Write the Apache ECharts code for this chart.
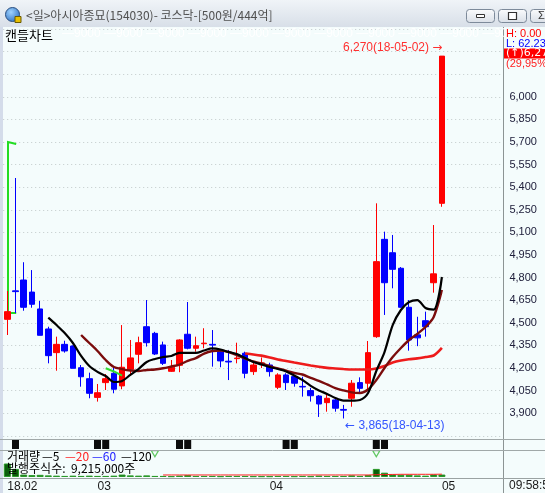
<!DOCTYPE html>
<html>
<head>
<meta charset="utf-8">
<script src="https://cdn.jsdelivr.net/npm/echarts@6/dist/echarts.min.js"></script>
<style>
html,body{margin:0;padding:0;background:#f4fcfc;}
#chart{width:545px;height:493px;}
</style>
</head>
<body>
<div id="chart"></div>
<script>
// 거래일
var dates = ['18-02-12','18-02-13','18-02-14','18-02-19','18-02-20','18-02-21','18-02-22','18-02-23','18-02-26','18-02-27','18-02-28',
  '18-03-02','18-03-05','18-03-06','18-03-07','18-03-08','18-03-09','18-03-12','18-03-13','18-03-14','18-03-15','18-03-16',
  '18-03-19','18-03-20','18-03-21','18-03-22','18-03-23','18-03-26','18-03-27','18-03-28','18-03-29','18-03-30',
  '18-04-02','18-04-03','18-04-04','18-04-05','18-04-06','18-04-09','18-04-10','18-04-11','18-04-12','18-04-13',
  '18-04-16','18-04-17','18-04-18','18-04-19','18-04-20','18-04-23','18-04-24','18-04-25','18-04-26','18-04-27','18-04-30',
  '18-05-02'];

// [시가, 종가, 저가, 고가]
var candles = [
  [4523,4574,4419,4711],[4712,4707,4565,5461],[4784,4603,4580,4902],[4704,4623,4600,4850],[4592,4417,4417,4645],
  [4459,4282,4231,4474],[4302,4357,4182,4408],[4357,4313,4302,4381],[4346,4198,4198,4350],[4202,4142,4076,4220],
  [4129,4032,3999,4169],[4005,4036,3977,4094],[4103,4129,4054,4160],[4165,4059,4032,4207],[4081,4205,4059,4485],
  [4192,4267,4147,4386],[4291,4368,4231,4408],[4474,4368,4342,4651],[4430,4293,4286,4440],[4353,4231,4220,4375],
  [4178,4205,4174,4253],[4218,4386,4172,4391],[4424,4331,4324,4638],[4331,4348,4308,4408],[4361,4365,4331,4464],
  [4357,4352,4209,4452],[4308,4247,4205,4320],[4245,4240,4120,4320],[4262,4266,4231,4368],[4298,4165,4132,4308],
  [4176,4220,4154,4242],[4230,4234,4200,4270],[4220,4176,4143,4235],[4072,4154,4060,4165],[4154,4103,4054,4165],
  [4143,4099,4076,4154],[4078,4074,4010,4142],[4050,4016,3977,4068],[4014,3961,3875,4020],[3970,3999,3910,4032],
  [3988,3933,3910,3995],[3925,3920,3865,3955],[3999,4099,3943,4120],[4103,4065,4032,4138],[4099,4302,4054,4379],
  [4408,4906,4400,5293],[5054,4766,4552,5105],[4965,4855,4729,5083],[4862,4603,4600,4870],[4603,4386,4315,4651],
  [4420,4400,4345,4540],[4514,4474,4408,4574],[4766,4825,4700,5149],[5293,6270,5270,6270]
];

// 이동평균
var ma5 = ['-','-','-','-','-',4534,4485,4432,4366,4280,4213,4174,4147,4107,4114,4154,4193,4240,4260,4273,4280,4300,4300,4300,
  4316,4330,4323,4306,4293,4266,4240,4223,4207,4193,4177,4150,4120,4081,4051,4028,4001,3984,3983,3988,4034,4180,4306,4485,
  4585,4638,4651,4598,4588,4804];
var ma10 = ['-','-','-','-','-','-','-','-','-',4419,4366,4313,4253,4207,4193,4183,4180,4187,4190,4198,4210,4223,4247,4266,
  4296,4313,4316,4306,4286,4263,4243,4230,4213,4197,4183,4167,4157,4134,4114,4091,4067,4051,4038,4034,4057,4120,4200,4273,
  4333,4386,4426,4472,4539,4718];
var ma30 = ['-','-','-','-','-','-','-','-','-','-','-','-','-','-','-','-','-','-','-','-','-','-','-','-','-','-','-','-','-',
  4296,4290,4282,4270,4256,4247,4237,4227,4217,4208,4201,4197,4193,4190,4190,4190,4197,4213,4237,4250,4258,4264,4273,4283,4333];
var greenSeg = ['-','-','-','-','-','-','-','-','-','-','-','-',4198,4177,4150];
var greenMark = [5700, 4565];

// 거래량 (상대값)
var vol = [50,30,9,7,8,6,5,4,5,4,5,4,4,5,9,6,5,6,4,4,3,5,7,4,4,4,3,4,4,4,3,3,3,4,4,3,4,3,5,4,4,4,6,4,7,30,16,9,8,8,6,5,9,9];
var volMa = ['-','-','-','-','-','-','-','-','-','-','-','-','-','-','-','-','-','-','-',
  7.5,7.5,7.5,7.5,7.5,7.5,7.5,7.5,7.5,7.5,7.5,7.5,7.5,7.5,7.5,7.5,7.5,7.5,7.5,7.5,7.5,7.5,7.5,7.5,7.5,7.5,
  8.5,9,9.5,10,10,10,10,10,10.5];

var markerIdx = [1,11,12,21,22,34,35,45,46];
var triIdx = [18,45];
var tickIdx = [0,11,32,53];
var tickText = ['18.02','03','04','05'];
var highPt = ['18-05-02', 6270];
var lowPt = ['18-04-13', 3865];

var FONT = '"Liberation Sans", Arial, sans-serif';
var KFONT = '"Noto Sans CJK KR", sans-serif';
var AFONT = '"DejaVu Sans", sans-serif';

function comma(v){ return String(v).replace(/\B(?=(\d{3})+(?!\d))/g, ','); }

var cats = dates.concat(['p1','p2','p3','p4','p5','p6','p7']);
var markerData = cats.map(function(d,i){ return markerIdx.indexOf(i) >= 0 ? 1 : '-'; });
var triData = cats.map(function(d,i){ return triIdx.indexOf(i) >= 0 ? 86 : '-'; });

var chart = echarts.init(document.getElementById('chart'));

function txt(x, y, s, color, font, align){
  return {type:'text', z:100, style:{x:x, y:y, text:s, fill:color, font:font, textAlign:align||'left', align:align||'left', textVerticalAlign:'middle', verticalAlign:'middle'}};
}
function line(x1,y1,x2,y2,c){
  return {type:'line', z:90, shape:{x1:x1,y1:y1,x2:x2,y2:y2}, style:{stroke:c, lineWidth:1}};
}
var btnFill = new echarts.graphic.LinearGradient(0,0,0,1,[{offset:0,color:'#fbfcfd'},{offset:1,color:'#d9dfe7'}]);

var hiddenX = function(gi){
  return {type:'category', gridIndex:gi, data:cats, boundaryGap:true,
    axisLine:{show:false}, axisTick:{show:false}, axisLabel:{show:false}, splitLine:{show:false}};
};

chart.setOption({
  animation:false,
  backgroundColor:'#f4fcfc',
  grid:[
    {left:3.2, right:41.6, top:29, height:406.8},
    {left:3.2, right:41.6, top:440, height:9},
    {left:3.2, right:41.6, top:450, height:28}
  ],
  xAxis:[
    hiddenX(0),
    hiddenX(1),
    {type:'category', gridIndex:2, data:cats, boundaryGap:true,
      axisLine:{show:false}, axisTick:{show:false}, splitLine:{show:false},
      axisLabel:{show:true, margin:4, align:'left', color:'#1a1a1a', fontSize:12, fontFamily:FONT,
        interval:function(i){ return tickIdx.indexOf(i) >= 0; },
        formatter:function(v, i){ var k = tickIdx.indexOf(i); return k >= 0 ? tickText[k] : ''; }}}
  ],
  yAxis:[
    {type:'value', gridIndex:0, position:'right', min:3750, max:6450, interval:150,
      axisLine:{show:true, lineStyle:{color:'#8c9494'}}, axisTick:{show:false},
      splitLine:{show:true, lineStyle:{color:'#c2caca', type:[1,3]}},
      axisLabel:{margin:6, color:'#20203c', fontSize:11, fontFamily:FONT,
        formatter:function(v){ return (v > 6000 || v < 3900) ? '' : comma(v); }}},
    {type:'value', gridIndex:1, min:0, max:1, show:false},
    {type:'value', gridIndex:2, min:0, max:100, show:false}
  ],
  series:[
    {type:'candlestick', xAxisIndex:0, yAxisIndex:0, data:candles, barWidth:6, silent:true,
      itemStyle:{color:'#ff0000', color0:'#0000ff', borderColor:'#ff0000', borderColor0:'#0000ff', borderWidth:1},
      markPoint:{symbol:'circle', symbolSize:1, silent:true, itemStyle:{color:'rgba(0,0,0,0)'},
        data:[
          {coord:highPt, label:{show:true, position:[1,-8], align:'right', verticalAlign:'middle',
            formatter:comma(highPt[1]) + '(' + highPt[0] + ') {a|→}', color:'#ff3030', fontSize:12, fontFamily:FONT,
            rich:{a:{fontFamily:AFONT, fontSize:12, color:'#ff3030'}}}},
          {coord:lowPt, label:{show:true, position:[2,8], align:'left', verticalAlign:'middle',
            formatter:'{a|←} ' + comma(lowPt[1]) + '(' + lowPt[0] + ')', color:'#3355ff', fontSize:12, fontFamily:FONT,
            rich:{a:{fontFamily:AFONT, fontSize:12, color:'#3355ff'}}}}
        ]}},
    {type:'custom', xAxisIndex:0, yAxisIndex:0, silent:true, data:[[0, greenMark[0], greenMark[1]]],
      renderItem:function(params, api){
        var top = api.coord([api.value(0), api.value(1)]);
        var bot = api.coord([api.value(0), api.value(2)]);
        var w = api.size([1, 0])[0];
        var x = top[0] + 0.7;
        return {type:'polyline', shape:{points:[[x + w, top[1] + 2],[x + w * 0.5, top[1] + 1],[x, top[1]],[x, bot[1]],[x + w, bot[1]]]},
          style:{stroke:'#22dd22', lineWidth:2, fill:null}};
      }},
    {type:'line', xAxisIndex:0, yAxisIndex:0, data:ma30, symbol:'none', smooth:0.3, silent:true,
      lineStyle:{color:'#ee1b1b', width:2.6}},
    {type:'line', xAxisIndex:0, yAxisIndex:0, data:ma10, symbol:'none', smooth:0.3, silent:true,
      lineStyle:{color:'#7b0c0c', width:2.4}},
    {type:'line', xAxisIndex:0, yAxisIndex:0, data:greenSeg, symbol:'none', silent:true,
      lineStyle:{color:'#33dd33', width:2}},
    {type:'line', xAxisIndex:0, yAxisIndex:0, data:ma5, symbol:'none', smooth:0.3, silent:true,
      lineStyle:{color:'#000000', width:2.2}},
    {type:'bar', xAxisIndex:1, yAxisIndex:1, data:markerData, barWidth:7, silent:true,
      itemStyle:{color:'#0c0c0c'}},
    {type:'bar', xAxisIndex:2, yAxisIndex:2, data:vol, barWidth:7, silent:true,
      itemStyle:{color:'#0b5e0b', borderColor:'#2a9a2a', borderWidth:1}},
    {type:'line', xAxisIndex:2, yAxisIndex:2, data:volMa, symbol:'none', silent:true,
      lineStyle:{color:'#ff2020', width:1}},
    {type:'scatter', xAxisIndex:2, yAxisIndex:2, data:triData, symbol:'triangle', symbolRotate:180, symbolSize:[7,6], silent:true,
      itemStyle:{color:'rgba(0,0,0,0)', borderColor:'#3cba3c', borderWidth:1.2}, z:5}
  ],
  graphic:[
    // 창 제목줄
    {type:'rect', z:80, shape:{x:0, y:0, width:545, height:27},
      style:{fill:new echarts.graphic.LinearGradient(0,0,0,1,[{offset:0,color:'#f0f4f8'},{offset:1,color:'#d8dfe8'}])}},
    {type:'rect', z:80, shape:{x:0, y:27, width:3, height:466}, style:{fill:'#d4dcea'}},
    {type:'circle', z:85, shape:{cx:12.5, cy:14.5, r:7},
      style:{fill:new echarts.graphic.RadialGradient(0.4,0.35,0.8,[{offset:0,color:'#9fd3ff'},{offset:1,color:'#1f62b8'}]), stroke:'#2a4f80', lineWidth:1}},
    {type:'rect', z:86, shape:{x:15, y:16.5, width:6, height:6}, style:{fill:'#e8c000', stroke:'#6a5a00', lineWidth:1}},
    txt(26, 15, '<일>아시아종묘(154030)- 코스닥-[500원/444억]', '#505050', '12px ' + KFONT),
    {type:'rect', z:85, shape:{x:466.5, y:9.5, width:28, height:13, r:3}, style:{fill:btnFill, stroke:'#7d8a9a', lineWidth:1}},
    {type:'rect', z:86, shape:{x:476.5, y:14.5, width:8, height:3}, style:{fill:'#fff', stroke:'#333', lineWidth:1}},
    {type:'rect', z:85, shape:{x:498.5, y:9.5, width:28, height:13, r:3}, style:{fill:btnFill, stroke:'#7d8a9a', lineWidth:1}},
    {type:'rect', z:86, shape:{x:508.5, y:12.5, width:8, height:7}, style:{fill:'#fff', stroke:'#333', lineWidth:1.2}},
    {type:'rect', z:85, shape:{x:530.5, y:9.5, width:28, height:13, r:3}, style:{fill:btnFill, stroke:'#7d8a9a', lineWidth:1}},
    txt(538, 16, 'Σ', '#333', '11px ' + FONT),
    // 차트 제목과 범례
    txt(5, 35, '캔들차트', '#000000', '13px ' + KFONT),
    txt(62, 34, '—9000 —9000 —9000 —9000 —9000 —9000 —9000 —9000 —9000 —9000 —9000', '#ffffff', '12px ' + FONT),
    // 오른쪽 정보
    txt(506, 34, 'H: 0.00', '#ff0000', '11px ' + FONT),
    txt(506, 44, 'L: 62.23', '#0000ff', '11px ' + FONT),
    {type:'rect', z:95, shape:{x:504, y:48.5, width:41, height:10}, style:{fill:'#ff0000'}},
    txt(506, 53.5, '(↑)6,270', '#ffffff', '11px ' + AFONT),
    txt(506, 64, '(29,95%)', '#ff2020', '11px ' + FONT),
    // 구분선
    line(503.5, 27, 503.5, 493, '#8c9494'),
    line(0, 439.5, 545, 439.5, '#a0a8a8'),
    line(0, 450.5, 545, 450.5, '#a0a8a8'),
    line(0, 478.5, 545, 478.5, '#9aa2a2'),
    // 거래량 범례
    txt(7, 456, '거래량', '#000000', '12px ' + KFONT),
    txt(42, 456, '—5', '#000000', '12px ' + KFONT),
    txt(65, 456, '—20', '#ff2020', '12px ' + KFONT),
    txt(92, 456, '—60', '#2020ff', '12px ' + KFONT),
    txt(121, 456, '—120', '#000000', '12px ' + KFONT),
    txt(7, 468, '발행주식수:  9,215,000주', '#000000', '12px ' + KFONT),
    txt(509, 486, '09:58:52', '#1a1a1a', '12px ' + FONT)
  ]
});
</script>
</body>
</html>
